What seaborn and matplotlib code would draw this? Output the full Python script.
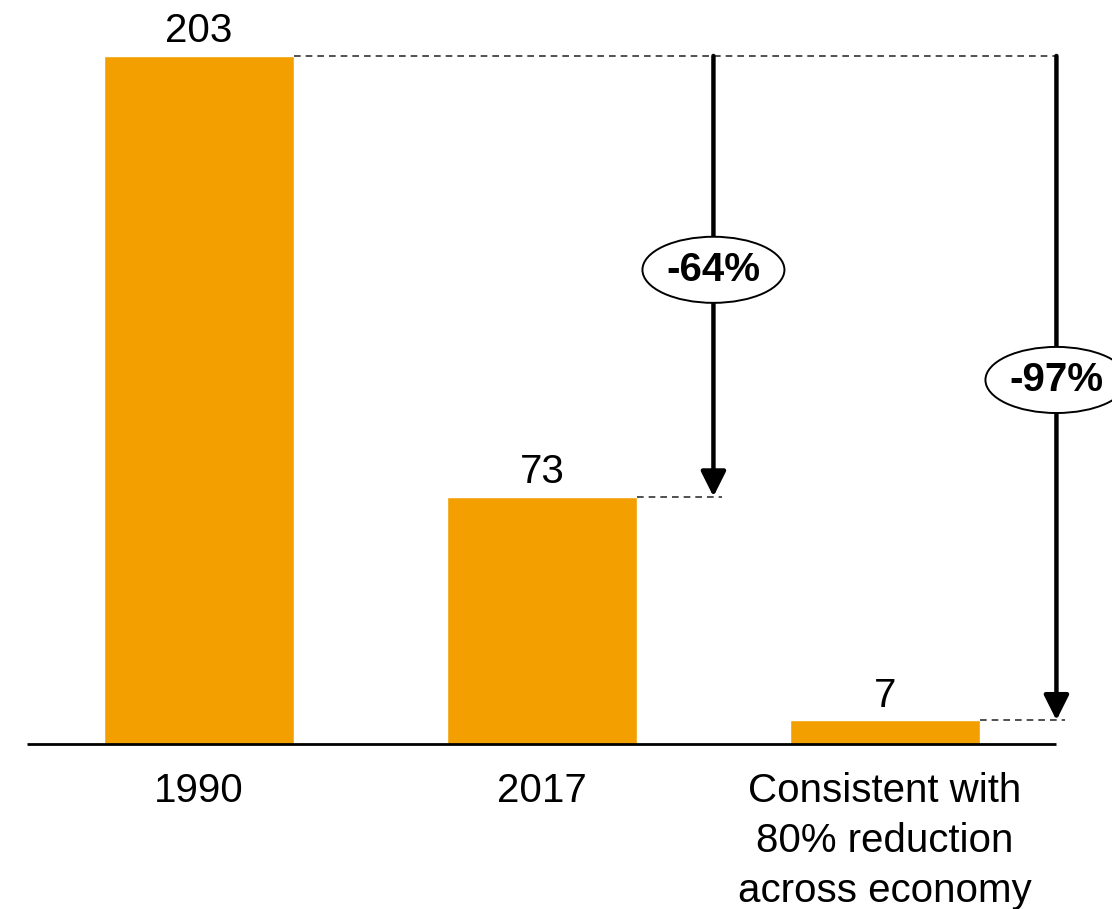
import matplotlib
matplotlib.use("Agg")
import matplotlib.pyplot as plt
from matplotlib.patches import Ellipse
import seaborn as sns

# chart data
categories = ["1990", "2017", "Consistent with\n80% reduction\nacross economy"]
values = [203, 73, 7]
change_labels = ["-64%", "-97%"]

bar_color = "#F39F00"

sns.set_theme(style="white")
plt.rcParams["font.family"] = ["Liberation Sans", "DejaVu Sans"]

fig = plt.figure(figsize=(11.12, 9.09), dpi=100)
ax = fig.add_axes([0, 165 / 909, 1, 744 / 909])

sns.barplot(x=categories, y=values, color=bar_color, width=0.554,
            saturation=1, ax=ax)

# value labels above the bars
ax.bar_label(ax.containers[0], labels=[str(v) for v in values],
             padding=4, fontsize=29, color="black")

ax.set_xlim(-0.58, 2.662)
ax.set_ylim(0, 219.5)
for s in ax.spines.values():
    s.set_visible(False)
ax.set_yticks([])
ax.set_xlabel("")
ax.set_ylabel("")
ax.tick_params(axis="x", length=0, pad=20, labelsize=29, colors="black")
for lbl in ax.get_xticklabels():
    lbl.set_linespacing(1.4)

# baseline
ax.hlines(0, -0.5, len(categories) - 0.5, color="black", lw=2, zorder=3,
          clip_on=False)

half_w = 0.554 / 2
start = values[0]
arrow_x = [1.5, 2.5]
ell_y = [139.9, 107.4]

# dashed guide from the first bar to the last arrow
ax.hlines(start, 0 + half_w, arrow_x[-1], color="#333333", lw=1.2,
          linestyles=(0, (4, 3)), zorder=2)

for i, (xa, lab, ey) in enumerate(zip(arrow_x, change_labels, ell_y)):
    target = values[i + 1]
    ax.hlines(target, (i + 1) + half_w, xa + 0.025, color="#333333", lw=1.2,
              linestyles=(0, (4, 3)), zorder=2)
    ax.annotate("", xy=(xa, target), xytext=(xa, start),
                arrowprops=dict(arrowstyle="-|>", color="black", lw=3.2,
                                mutation_scale=38, shrinkA=0, shrinkB=0),
                zorder=4)
    ax.add_patch(Ellipse((xa, ey), 0.414, 19.5, facecolor="white",
                         edgecolor="black", lw=1.4, zorder=5, clip_on=False))
    ax.text(xa, ey, lab, ha="center", va="center", fontsize=29,
            fontweight="bold", color="black", zorder=6)

fig.savefig("out.png", dpi=100)
